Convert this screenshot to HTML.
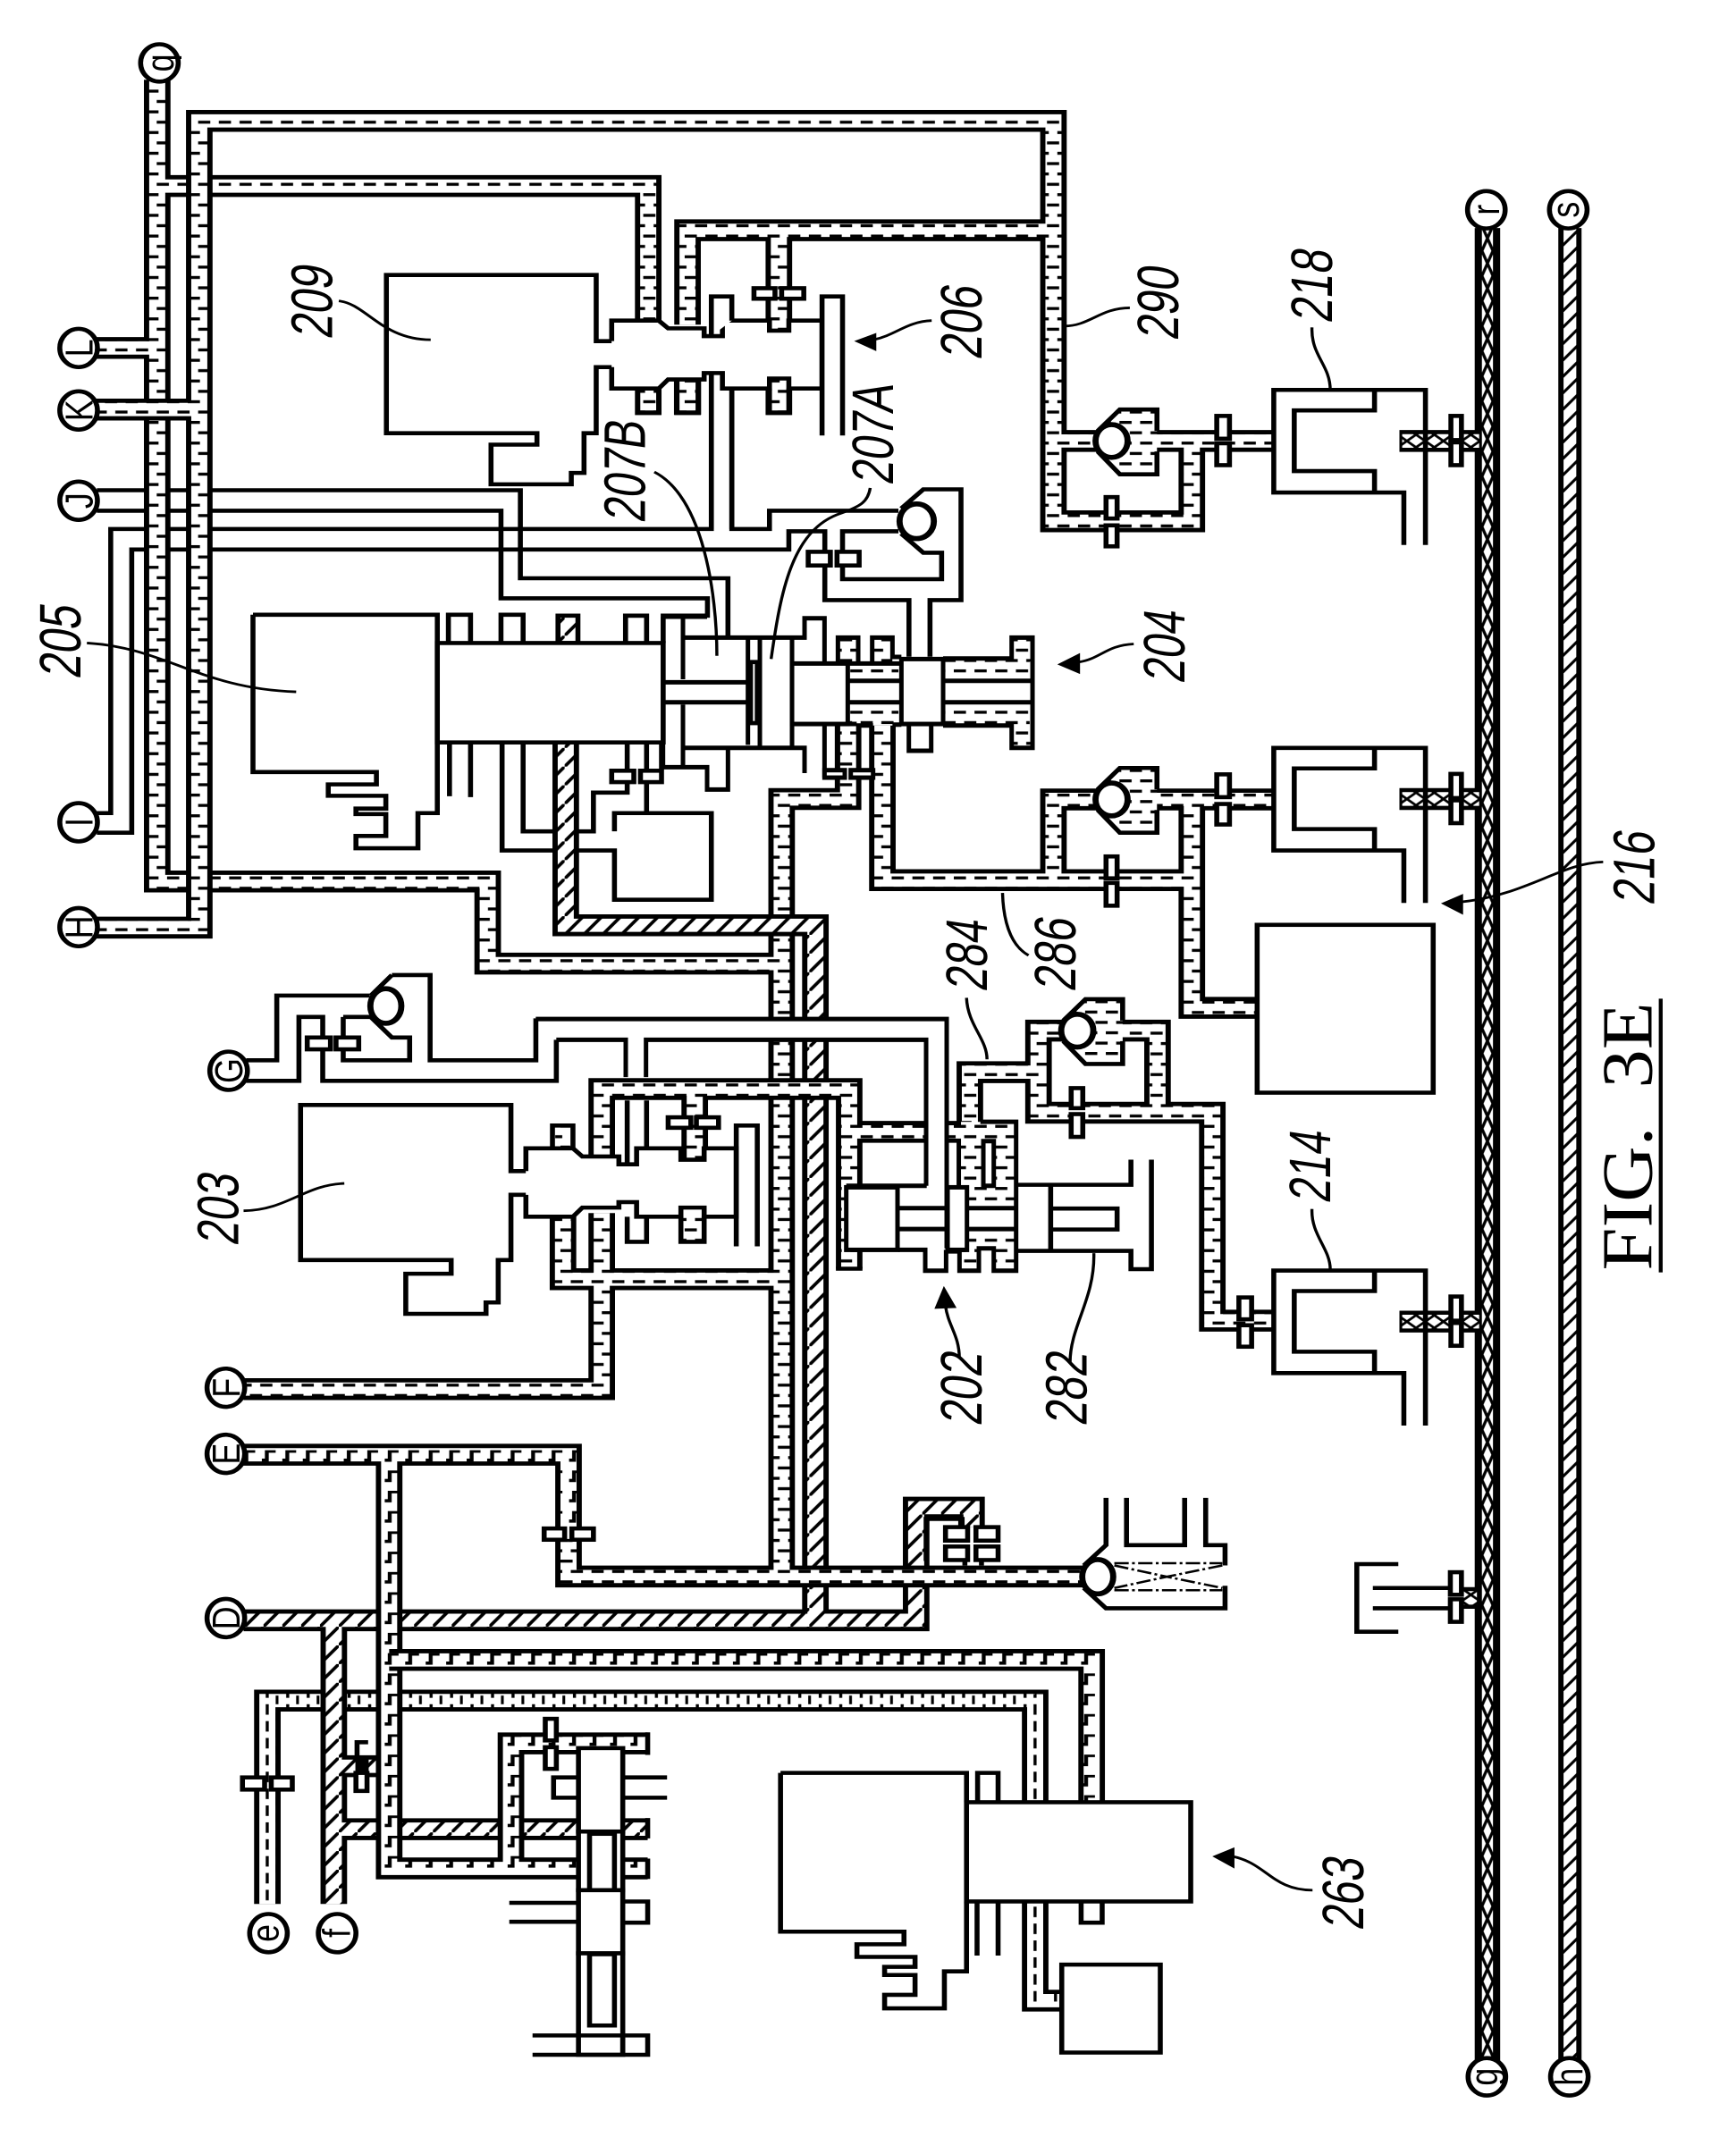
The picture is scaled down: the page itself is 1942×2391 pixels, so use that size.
<!DOCTYPE html>
<html><head><meta charset="utf-8"><title>FIG. 3E</title>
<style>
html,body{margin:0;padding:0;background:#fff}
svg{display:block;position:absolute;left:0;top:0}
.p{fill:none;stroke:#000;stroke-width:9;stroke-linejoin:miter}
.w{fill:#fff;stroke:#000;stroke-width:9}
.k{fill:none;stroke:#000;stroke-width:48}
.l{fill:none;stroke:#000;stroke-width:5.5}
.t3 .p{stroke-width:15}.t3 .w{stroke-width:15}
.a{fill:#000;stroke:none}
.n{font-family:"Liberation Sans",sans-serif;font-size:106px;fill:#000}
.c{font-family:"Liberation Sans",sans-serif;font-size:70px;fill:#000;text-anchor:middle}
</style></head><body>
<svg xmlns="http://www.w3.org/2000/svg" width="1942" height="2391" viewBox="0 0 3136 4686" preserveAspectRatio="none">
<defs>
<pattern id="d" patternUnits="userSpaceOnUse" width="37.4" height="45.4" patternTransform="translate(1162 469)">
<rect width="38" height="46" fill="#fff"/><rect x="0" y="0" width="22" height="6.5"/><rect x="18.7" y="22.7" width="19" height="6.5"/><rect x="0" y="22.7" width="3.3" height="6.5"/></pattern>
<pattern id="h" patternUnits="userSpaceOnUse" width="34" height="41">
<rect width="35" height="42" fill="#fff"/><path d="M-4 45.8L38-4.8" stroke="#000" stroke-width="6.5" fill="none"/></pattern>
<pattern id="s" patternUnits="userSpaceOnUse" width="29" height="36" patternTransform="translate(2822 0)">
<rect width="30" height="37" fill="#fff"/><path d="M-3 39L32-3" stroke="#000" stroke-width="5.5" fill="none"/></pattern>
<pattern id="x" patternUnits="userSpaceOnUse" width="20" height="55" patternTransform="translate(2677 0)">
<rect width="21" height="56" fill="#fff"/><path d="M0 0L20 55M20 0L0 55" stroke="#000" stroke-width="5.5" fill="none"/></pattern>
<pattern id="xr" patternUnits="userSpaceOnUse" width="33" height="28" patternTransform="translate(0 953)">
<rect width="34" height="29" fill="#fff"/><path d="M0 0L33 28M33 0L0 28" stroke="#000" stroke-width="5" fill="none"/></pattern>
<pattern id="z" patternUnits="userSpaceOnUse" width="37" height="44.5" patternTransform="translate(473 3180)">
<rect width="38" height="45" fill="#fff"/><path d="M0 22H9V2H25" stroke="#000" stroke-width="7" fill="none"/></pattern>
<pattern id="v" patternUnits="userSpaceOnUse" width="37" height="37" patternTransform="translate(464 3700)">
<rect width="38" height="38" fill="#fff"/><rect x="16" y="0" width="5.5" height="23"/><rect x="34" y="18" width="5.5" height="19"/><rect x="0" y="18" width="2" height="19"/></pattern>
<pattern id="v2" patternUnits="userSpaceOnUse" width="37" height="37" patternTransform="translate(1851 3700)">
<rect width="38" height="38" fill="#fff"/><rect x="16" y="0" width="5.5" height="23"/></pattern>

<path id="Lh" d="M483 4175V3729H1870V4387H1922"/>
<path id="L1" d="M284 175V1933H881V2113H1412M284 408H1171V715M284 763H175M1412 3440V1752H1532V1591M440 3046H1087V2660M1017 2650V2805H1412M1594 1591V1930H2153V1753M1903 1930V1753H2300M2153 1930V2210H2272M1752 2640V2351H1876V2260H2091V2440H2190V2896H2300M1876 2351V2440H2091"/>
<path id="L2" d="M110 2034H360V265H1903V1143H2153V967M1903 967H2300M1242 712V505H1903M1407 505V725M110 898H360"/>
<path id="Lx" d="M1022 1628V2029H1473V3553M440 3553H1655V3306H1755V3349M603 3553V4175M603 4011H1170M603 3873H700"/>
<path id="Lu" d="M1087 2540V2388H1534V2782M1255 2388V2541M1534 2482H1755M1027 3363V3457H1960"/>
<path id="Lz" d="M440 3190H1027V3363M703 3190V4097H1170M923 4097V3823H1170"/>
<path id="Lz2" d="M703 3640H1972V3960"/>

<g id="act">
<path d="M960 967H1104" fill="none" stroke="#000" stroke-width="48"/>
<path d="M965 967H1104" fill="none" stroke="url(#xr)" stroke-width="30"/>
<path class="p" d="M1007 1195V855H733V1080H968V1195M915 855V900H770V1033H915V1080"/>
<rect class="w" x="1053" y="912" width="19" height="53"/><rect class="w" x="1053" y="970" width="19" height="50"/>
</g>
<g id="cv">
<path d="M1983 945L2023 898H2090V1040H2023L1983 990Z" fill="url(#d)"/>
<path class="p" d="M1983 945L2023 898H2090V945M1983 990L2023 1040H2090V990"/>
<ellipse cx="2008" cy="967" rx="29" ry="36" fill="#fff" stroke="#000" stroke-width="11"/>
</g>
</defs>
<rect width="3136" height="4686" fill="#fff"/>

<!-- under-layer plain channels -->
<g class="under">
<path class="p" d="M175 1075H940V1268H1315V1400M175 1120H905V1312H1278V1350H1198V1410M175 1783H200V1160H1285V818M175 1826H238V1205H1425V1165H1490V1316H1642V1440M1322 852V1160H1390V1120H1623M1522 1240V1270H1701V1212H1668L1628 1170M1522 1210V1165H1623M1680 1440V1316H1736V1073H1668L1628 1115"/>
<path class="p" d="M1130 1410V1350H1168V1410"/>
</g>

<!-- H channel -->
<use href="#Lh" class="k"/>
<path d="M483 4175V3729H1870" fill="none" stroke="url(#v)" stroke-width="29"/>
<path d="M1870 3715V4387H1922" fill="none" stroke="url(#v2)" stroke-width="29"/>

<!-- dash lower -->
<use href="#L1" class="k"/><use href="#L1" fill="none" stroke="url(#d)" stroke-width="29"/>
<path class="k" d="M1171 848V910M1242 835V910M1407 830V910"/>
<path d="M1171 848V900M1242 835V900M1407 830V900" fill="none" stroke="url(#d)" stroke-width="29"/>
<use href="#L2" class="k"/><use href="#L2" fill="none" stroke="url(#d)" stroke-width="29"/>

<!-- hatch -->
<use href="#Lx" class="k"/><use href="#Lx" fill="none" stroke="url(#h)" stroke-width="29"/>
<rect x="1008" y="1350" width="36" height="60" fill="url(#h)" stroke="#000" stroke-width="9"/>

<!-- dash upper -->
<use href="#Lu" class="k"/><use href="#Lu" fill="none" stroke="url(#d)" stroke-width="29"/>
<path d="M1412 3420V3462" fill="none" stroke="url(#d)" stroke-width="29"/>
<path class="p" d="M1510 2782H1558"/>

<!-- zig -->
<use href="#Lz" class="k"/><use href="#Lz" fill="none" stroke="url(#z)" stroke-width="29"/>
<use href="#Lz2" class="k"/><use href="#Lz2" fill="none" stroke="url(#z)" stroke-width="29"/>

<!-- white channel masks -->
<rect x="1380" y="2238" width="125" height="38" fill="#fff"/>
<rect x="1677" y="2450" width="31" height="64" fill="#fff"/>

<!-- buses -->
<path d="M2687 500V4520" fill="none" stroke="#000" stroke-width="46"/>
<path d="M2687 500V4520" fill="none" stroke="url(#x)" stroke-width="20"/>
<path d="M2836 500V4520" fill="none" stroke="#000" stroke-width="42"/>
<path d="M2836 500V4520" fill="none" stroke="url(#s)" stroke-width="23"/>

<!-- pattern fills: valve bodies -->
<g fill="url(#d)">
<rect x="1534" y="1456" width="89" height="31"/><rect x="1534" y="1552" width="89" height="36"/>
<rect x="1705" y="1448" width="155" height="39"/><rect x="1705" y="1552" width="155" height="40"/>
<rect x="1830" y="1401" width="32" height="50"/><rect x="1830" y="1590" width="32" height="46"/>
<rect x="1514" y="1401" width="36" height="53"/><rect x="1576" y="1401" width="36" height="53"/>
<rect x="1736" y="2460" width="97" height="183"/><rect x="1749" y="2702" width="84" height="38"/>
<rect x="1733" y="2738" width="38" height="48"/><rect x="1795" y="2738" width="38" height="48"/>
<rect x="1003" y="2473" width="27" height="45"/><rect x="1230" y="2668" width="42" height="54"/>
</g>

<!-- C1 plain -->
<path class="p" d="M1105 748H1077V603H698V950H970V975H887V1062H1032V1037H1055V950H1077V805H1105"/>
<path class="w" d="M1105 748V703H1190L1207 720H1272V737H1305V703H1390V725H1425V703H1485V852H1425V830H1390V852H1305V818H1272V832H1207L1190 852H1105V805"/>
<path class="w" d="M1285 737V650H1322V703"/>
<path class="w" d="M1485 955V650H1522V955" style="fill:#fff"/>
<path class="p" d="M1152 852V905H1190V852M1222 832V905H1262V832M1390 852V905H1425V852"/>
<path class="p" d="M1285 818V1160M1322 852V1160"/>
<rect class="w" x="1362" y="632" width="38" height="23"/><rect class="w" x="1412" y="632" width="40" height="23"/>
<rect class="w" x="790" y="1410" width="408" height="218"/>
<path class="p" d="M457 1348H790V1783H755V1860H643V1833H697V1785H643V1773H697V1745H593V1720H680V1693H457V1348M810 1410V1348H850V1410M905 1410V1348H945V1410M1130 1410V1350H1168V1410"/>
<path class="p" d="M812 1628V1746M850 1628V1748M907 1628V1865H1005M945 1628V1823H1005M1040 1823H1072V1738H1133V1628M1040 1865H1110V1973H1285V1783H1110V1823M1168 1718V1783M1168 1628V1690M1195 1628V1688"/>
<rect class="w" x="1105" y="1690" width="40" height="25"/><rect class="w" x="1157" y="1690" width="38" height="25"/>
<rect class="w" x="1460" y="1210" width="40" height="30"/><rect class="w" x="1512" y="1210" width="40" height="30"/>

<!-- valve 204 + 207 (crop7 coords) -->
<g class="t3" transform="translate(1130.4 1215.2) scale(.5383 .6533)">
<path class="p" d="M125 210V715H273V790H343V650M192 210V420M192 505V715M192 280H600V215H667V365M192 650H600V735M125 430H415M125 497H415M410 285V640M450 285V645M558 285V645"/>
<path class="p" d="M125 210H273" />
<rect x="420" y="362" width="20" height="205" fill="#fff" stroke="#000" stroke-width="14"/>
<rect class="w" x="558" y="367" width="187" height="203"/>
<rect class="w" x="925" y="352" width="140" height="218"/>
<path class="p" d="M745 425H920M745 497H920M1065 425H1365M1065 497H1365M1065 350H1295V280H1365V650H1295V575H1065M712 360V280H780V360M827 360V280H895V345H925M745 367H920M745 570H775M895 572H925M950 570V660H1025V570M667 570V750M712 570V725M775 575H830"/>
<rect class="w" x="667" y="725" width="68" height="25"/><rect class="w" x="755" y="725" width="75" height="25"/>
</g>
<ellipse cx="1656" cy="1143" rx="31" ry="38" fill="#fff" stroke="#000" stroke-width="11"/>

<!-- G valve and lines (C3) -->
<g transform="translate(0 1568)">
<path class="p" d="M445 757H500V615H668M708 570H777V757H968V665M708 570L670 615M445 802H540V662H583V802H1005V712M620 662H668M620 662V757H740V707H708L668 660"/>
<rect class="w" x="555" y="707" width="42" height="26"/><rect class="w" x="607" y="707" width="41" height="26"/>
<ellipse cx="697" cy="638" rx="28" ry="38" fill="#fff" stroke="#000" stroke-width="11"/>
<!-- 203 -->
<path class="p" d="M950 1000H923V855H543V1195H815V1225H733V1313H878V1288H900V1195H923V1052H950"/>
<path class="w" d="M950 1000V950H1035L1052 968H1118V985H1150V950H1230V975H1272V950H1330V1100H1272V1080H1230V1100H1150V1068H1118V1080H1052L1035 1100H950V1052"/>
<path class="p" d="M998 950V900H1035V950M1330 1165V900H1368V1165M1133 1100V1155H1168V1100M1230 1100V1155H1272V1100M1133 845V985M1168 845V950"/>
<rect class="w" x="1207" y="882" width="41" height="23"/><rect class="w" x="1258" y="882" width="40" height="23"/>
</g>

<!-- 202 (crop8 coords) -->
<g class="t3" transform="translate(1033.5 2214.8) scale(.5383 .6533)">
<path class="p" d="M-122 30H1257V800M-53 100H180V225M248 225V100H1188V590M920 590H1190M1095 665H1255M1095 735H1255M1095 805H1185V875H1255V805"/>
<rect class="w" x="920" y="595" width="172" height="210"/>
<rect class="w" x="1260" y="595" width="65" height="210"/>
<path class="p" d="M1325 665H1490M1325 735H1490M1370 375H1490V875H1415V800H1365V875H1300V810H1260"/>
<rect class="w" x="1380" y="440" width="35" height="150"/>
</g>
<g transform="translate(1568 1568)">
<path class="p" d="M270 1030H475V975M512 975V1215H475V1175H270M330 1030V1175M330 1082H450V1128H330"/>
<rect class="w" x="367" y="818" width="21" height="44"/><rect class="w" x="367" y="875" width="21" height="50"/>
<rect class="w" x="430" y="310" width="20" height="48"/><rect class="w" x="430" y="368" width="20" height="50"/>
<rect class="w" x="703" y="460" width="318" height="368"/>
<rect class="w" x="630" y="130" width="23" height="50"/><rect class="w" x="630" y="195" width="23" height="45"/>
<rect class="w" x="670" y="1277" width="23" height="48"/><rect class="w" x="670" y="1338" width="23" height="47"/>
</g>

<!-- check valves -->
<use href="#cv"/>
<use href="#cv" transform="translate(0 786)"/>
<use href="#cv" transform="translate(-62 1293)"/>

<!-- 218 inlet -->
<g transform="translate(1568 0)">
<rect class="w" x="430" y="1090" width="20" height="47"/><rect class="w" x="430" y="1152" width="20" height="46"/>
<rect class="w" x="630" y="912" width="23" height="50"/><rect class="w" x="630" y="972" width="23" height="48"/>
</g>

<!-- actuators -->
<use href="#act" transform="translate(1568 0)"/>
<use href="#act" transform="translate(1568 785)"/>
<use href="#act" transform="translate(1568 1931)"/>

<!-- C5 details -->
<g transform="translate(0 3136) scale(1 .989)">
<rect class="w" x="983" y="218" width="37" height="25"/><rect class="w" x="1033" y="218" width="39" height="25"/>
<rect class="w" x="438" y="770" width="40" height="27"/><rect class="w" x="490" y="770" width="38" height="27"/>
<rect class="w" x="985" y="640" width="20" height="48"/><rect class="w" x="985" y="703" width="20" height="48"/>
<path class="p" d="M665 692H645V725"/><rect x="642" y="725" width="24" height="34"/><rect class="w" x="643" y="760" width="20" height="40"/>
<rect class="w" x="1045" y="705" width="80" height="185"/>
<path class="p" d="M1125 770H1205M1125 815H1205M1045 770H1000V815H1045"/>
<path class="p" d="M1170 670V720M1170 860V905M1170 950V995"/>
<rect class="w" x="1045" y="890" width="80" height="130"/>
<rect class="w" x="1065" y="895" width="45" height="125"/>
<rect class="w" x="1045" y="1020" width="80" height="140"/>
<rect class="w" x="1045" y="1160" width="80" height="225"/>
<rect class="w" x="1065" y="1162" width="45" height="158"/>
<path class="p" d="M1125 1045H1170V1092H1125M920 1048H1045M920 1090H1045M962 1342H1170V1385H962M1125 1342V1385"/>
<path class="p" d="M1410 760V1112H1633V1140H1548V1168H1653V1190H1598V1208H1653V1252H1598V1282H1706V1200H1746V1045M1410 760H1746V825"/>
</g>

<!-- C6 details -->
<g transform="translate(1568 3136) scale(1 .989)">
<path class="p" d="M105 290V197H170V218"/>
<rect class="w" x="140" y="215" width="40" height="30"/><rect class="w" x="195" y="215" width="40" height="30"/>
<rect class="w" x="140" y="258" width="40" height="30"/><rect class="w" x="195" y="258" width="40" height="30"/>
<path class="p" d="M175 290V300M205 290V300"/>
<path class="p" d="M430 150V255L390 300M390 350L430 395H645V345M645 300V255H610V150M467 150V255H572V150"/>
<path d="M445 295H640M445 355H640M445 300L540 325L445 350M640 300L540 325L640 350" fill="none" stroke="#000" stroke-width="5" stroke-dasharray="26 6 5 6"/>
<ellipse cx="415" cy="325" rx="28" ry="38" fill="#fff" stroke="#000" stroke-width="11"/>
<path class="p" d="M958 297H883V447H958M912 350H1060M912 395H1060"/>
<path d="M1072 372H1100" fill="none" stroke="#000" stroke-width="48"/>
<path d="M1072 372H1100" fill="none" stroke="url(#xr)" stroke-width="30"/>
<rect class="w" x="1052" y="315" width="20" height="50"/><rect class="w" x="1052" y="375" width="20" height="50"/>
<path class="p" d="M198 825V760H235V825M197 1045V1165M235 1045V1165M385 1045V1092H423V1045"/>
<rect class="w" x="178" y="825" width="405" height="220"/>
<rect class="w" x="350" y="1185" width="178" height="195"/>
</g>

<!-- leaders and arrowheads -->
<path class="l" d="M612 660C660 665 690 745 778 745M1182 1035C1270 1090 1295 1300 1295 1438M1393 1445C1410 1300 1430 1160 1520 1125C1555 1110 1568 1100 1572 1070M157 1410C300 1420 360 1510 535 1517"/>
<g transform="translate(1568 0)">
<path class="l" d="M115 703C70 705 50 735 10 745M473 675C420 675 400 715 355 715M802 718C800 780 835 800 835 855M480 1412C430 1415 420 1445 380 1452"/>
<path class="a" d="M15 730L-25 748L15 770ZM383 1432L342 1457L383 1478Z"/>
</g>
<g transform="translate(1568 1568)">
<path class="l" d="M1328 322C1250 325 1190 395 1070 410M243 390C245 470 265 510 290 527M178 620C180 680 215 710 215 755M802 1083C800 1140 835 1170 835 1215M165 1410C165 1360 145 1340 140 1296M365 1420C365 1340 410 1280 408 1180"/>
<path class="a" d="M1075 392L1035 413L1075 438ZM137 1252L120 1302L160 1300Z"/>
</g>
<path class="l" d="M440 2655C520 2653 550 2598 622 2595"/>
<g transform="translate(1568 3136) scale(1 .989)">
<path class="l" d="M803 1020C730 1020 720 960 658 945"/>
<path class="a" d="M662 925L622 945L662 972Z"/>
</g>

<!-- connectors -->
<g fill="#fff" stroke="#000" stroke-width="9">
<ellipse cx="288" cy="138" rx="34" ry="41"/><ellipse cx="142" cy="763" rx="34" ry="42"/><ellipse cx="142" cy="900" rx="34" ry="42"/><ellipse cx="142" cy="1098" rx="34" ry="42"/><ellipse cx="142" cy="1803" rx="34" ry="42"/><ellipse cx="142" cy="2033" rx="34" ry="42"/><ellipse cx="413" cy="2348" rx="34" ry="42"/><ellipse cx="408" cy="3043" rx="34" ry="42"/><ellipse cx="408" cy="3188" rx="34" ry="42"/><ellipse cx="408" cy="3548" rx="34" ry="42"/><ellipse cx="485" cy="4239" rx="34" ry="42"/><ellipse cx="609" cy="4239" rx="34" ry="42"/><ellipse cx="2685" cy="460" rx="34" ry="41"/><ellipse cx="2833" cy="460" rx="34" ry="41"/><ellipse cx="2686" cy="4554" rx="34" ry="41"/><ellipse cx="2835" cy="4554" rx="34" ry="41"/>
</g>
<g class="cl">
<text class="c" transform="translate(313 138) rotate(-90)">q</text>
<text class="c" transform="translate(167 763) rotate(-90)">L</text>
<text class="c" transform="translate(167 900) rotate(-90)">K</text>
<text class="c" transform="translate(167 1098) rotate(-90)">J</text>
<text class="c" transform="translate(167 1803) rotate(-90)">I</text>
<text class="c" transform="translate(167 2033) rotate(-90)">H</text>
<text class="c" transform="translate(438 2348) rotate(-90)">G</text>
<text class="c" transform="translate(433 3043) rotate(-90)">F</text>
<text class="c" transform="translate(433 3188) rotate(-90)">E</text>
<text class="c" transform="translate(433 3548) rotate(-90)">D</text>
<text class="c" transform="translate(503 4239) rotate(-90)">e</text>
<text class="c" transform="translate(632 4239) rotate(-90)">f</text>
<text class="c" transform="translate(2708 460) rotate(-90)">r</text>
<text class="c" transform="translate(2852 460) rotate(-90)">s</text>
<text class="c" transform="translate(2705 4554) rotate(-90)">g</text>
<text class="c" transform="translate(2858 4554) rotate(-90)">h</text>
</g>
<g>
<text class="n" textLength="160" lengthAdjust="spacingAndGlyphs" transform="translate(600 745) rotate(-90) skewX(-10)">209</text>
<text class="n" textLength="223" lengthAdjust="spacingAndGlyphs" transform="translate(1165 1148) rotate(-90) skewX(-10)">207B</text>
<text class="n" textLength="220" lengthAdjust="spacingAndGlyphs" transform="translate(1613 1065) rotate(-90) skewX(-10)">207A</text>
<text class="n" textLength="160" lengthAdjust="spacingAndGlyphs" transform="translate(145 1490) rotate(-90) skewX(-10)">205</text>
<text class="n" textLength="160" lengthAdjust="spacingAndGlyphs" transform="translate(1773 790) rotate(-90) skewX(-10)">206</text>
<text class="n" textLength="160" lengthAdjust="spacingAndGlyphs" transform="translate(2128 748) rotate(-90) skewX(-10)">290</text>
<text class="n" textLength="160" lengthAdjust="spacingAndGlyphs" transform="translate(2406 710) rotate(-90) skewX(-10)">218</text>
<text class="n" textLength="158" lengthAdjust="spacingAndGlyphs" transform="translate(2140 1500) rotate(-90) skewX(-10)">204</text>
<text class="n" textLength="160" lengthAdjust="spacingAndGlyphs" transform="translate(2988 1986) rotate(-90) skewX(-10)">216</text>
<text class="n" textLength="160" lengthAdjust="spacingAndGlyphs" transform="translate(1943 2176) rotate(-90) skewX(-10)">286</text>
<text class="n" textLength="156" lengthAdjust="spacingAndGlyphs" transform="translate(1783 2176) rotate(-90) skewX(-10)">284</text>
<text class="n" textLength="157" lengthAdjust="spacingAndGlyphs" transform="translate(2403 2640) rotate(-90) skewX(-10)">214</text>
<text class="n" textLength="160" lengthAdjust="spacingAndGlyphs" transform="translate(1773 3128) rotate(-90) skewX(-10)">202</text>
<text class="n" textLength="160" lengthAdjust="spacingAndGlyphs" transform="translate(1963 3128) rotate(-90) skewX(-10)">282</text>
<text class="n" textLength="157" lengthAdjust="spacingAndGlyphs" transform="translate(430 2733) rotate(-90) skewX(-10)">203</text>
<text class="n" textLength="158" lengthAdjust="spacingAndGlyphs" transform="translate(2463 4234) rotate(-90) skewX(-10)">263</text>
<text font-family="'Liberation Serif',serif" font-size="130" textLength="588" lengthAdjust="spacingAndGlyphs" transform="translate(2983 2786) rotate(-90)">FIG.&#160;&#160;3E</text>
</g>
<path d="M3000 2790V2190" fill="none" stroke="#000" stroke-width="7"/>
</svg>
</body></html>
